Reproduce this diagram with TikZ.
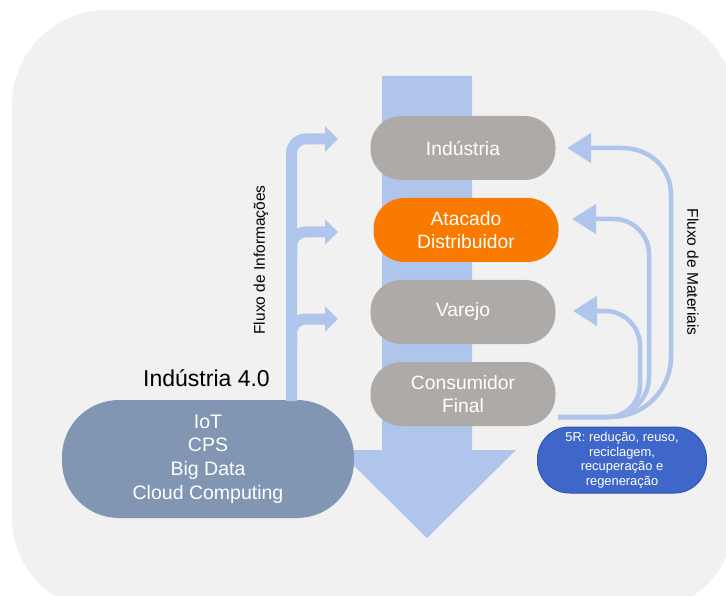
\documentclass[tikz,border=0pt]{standalone}
\usepackage{fontspec}
\setmainfont{Liberation Sans}
\usetikzlibrary{arrows.meta}
\definecolor{bgc}{HTML}{F1F1F1}
\definecolor{grayn}{HTML}{ADAAA8}
\definecolor{orangen}{HTML}{FA7A00}
\definecolor{flowc}{HTML}{B0C5EB}
\definecolor{slaten}{HTML}{8096B3}
\definecolor{fiveR}{HTML}{3F66C9}
\definecolor{fiveRb}{HTML}{2E55B5}
\begin{document}
\begin{tikzpicture}[x=1pt,y=-1pt,
  stage/.style={rectangle, rounded corners=31pt, minimum width=185pt, minimum height=64pt,
    inner sep=0pt, text=white, align=center, font=\fontsize{19.3}{23}\selectfont},
  techbox/.style={rectangle, rounded corners=57pt, minimum width=292pt, minimum height=118pt,
    inner sep=0pt, fill=slaten, text=white, align=center, font=\fontsize{19.5}{23.7}\selectfont},
  rbox/.style={rectangle, rounded corners=32pt, minimum width=169pt, minimum height=66pt,
    inner sep=0pt, fill=fiveR, draw=fiveRb, line width=1pt, text=white, align=center,
    font=\fontsize{12.9}{14.5}\selectfont},
  sidelabel/.style={font=\fontsize{15.5}{18}\selectfont, text=black},
  infoflow/.style={draw=flowc, line width=11pt, rounded corners=14pt,
    -{Triangle[width=25pt,length=13pt]}},
  matflow/.style={draw=flowc, line width=4.5pt,
    -{Triangle[width=29pt,length=24pt]}}
]
\useasboundingbox (0,0) rectangle (726,596);
\fill[white] (0,0) rectangle (726,596);
\begin{scope}
  \clip (0,0) rectangle (726,596);
  \fill[bgc, rounded corners=95pt] (12,10) rectangle (735,612);
\end{scope}

% big downward arrow
\fill[flowc] (382,76) -- (472,76) -- (472,450) -- (516,450) -- (427,538)
  -- (338,450) -- (382,450) -- cycle;

% chain nodes
\node[stage, fill=grayn]   (ind) at (463,148) {Indústria};
\node[stage, fill=orangen] (ata) at (466,230) {Atacado\\Distribuidor};
\node[stage, fill=grayn]   (var) at (463,312) {Varejo};
\node[stage, fill=grayn]   (con) at (463,394) {Consumidor\\Final};

% Industria 4.0
\node[techbox] (i40) at (208,459) {IoT\\CPS\\Big Data\\Cloud Computing};
\node[font=\fontsize{23}{27}\selectfont, anchor=base] (i40lbl) at (206.5,386) {Indústria 4.0};

% information flow
\coordinate (ib) at (291.5,401);
\coordinate (it1) at (338,139);
\coordinate (it2) at (338,232);
\coordinate (it3) at (338,319);
\draw[infoflow] (ib) -- (291.5,139) -- (it1);
\draw[infoflow] (291.5,262) -- (291.5,232) -- (it2);
\draw[infoflow] (291.5,349) -- (291.5,319) -- (it3);
\node[sidelabel, rotate=90] (lblinfo) at (261,260) {Fluxo de Informações};

% material flow
\coordinate (m0) at (558,417);
\coordinate (mt1) at (567,148);
\coordinate (mt2) at (572,219);
\coordinate (mt3) at (573,311);
\draw[matflow] (m0) -- (611,417) .. controls (644,417) and (671,390) .. (671,357)
  -- (671,195) .. controls (671,167) and (649,148) .. (622,148) -- (mt1);
\draw[matflow] (m0) -- (609,417) .. controls (631,417) and (649,399) .. (649,377)
  -- (649,254) .. controls (649,235) and (633,219) .. (614,219) -- (mt2);
\draw[matflow] (m0) -- (608,417) .. controls (625.7,417) and (640,402.7) .. (640,385)
  -- (640,346) .. controls (640,326.7) and (624.3,311) .. (605,311) -- (mt3);
\node[sidelabel, rotate=-90] (lblmat) at (693,272) {Fluxo de Materiais};

% 5R
\node[rbox] (r5) at (622,460) {5R: redução, reuso,\\reciclagem,\\recuperação e\\regeneração};
\end{tikzpicture}
\end{document}
